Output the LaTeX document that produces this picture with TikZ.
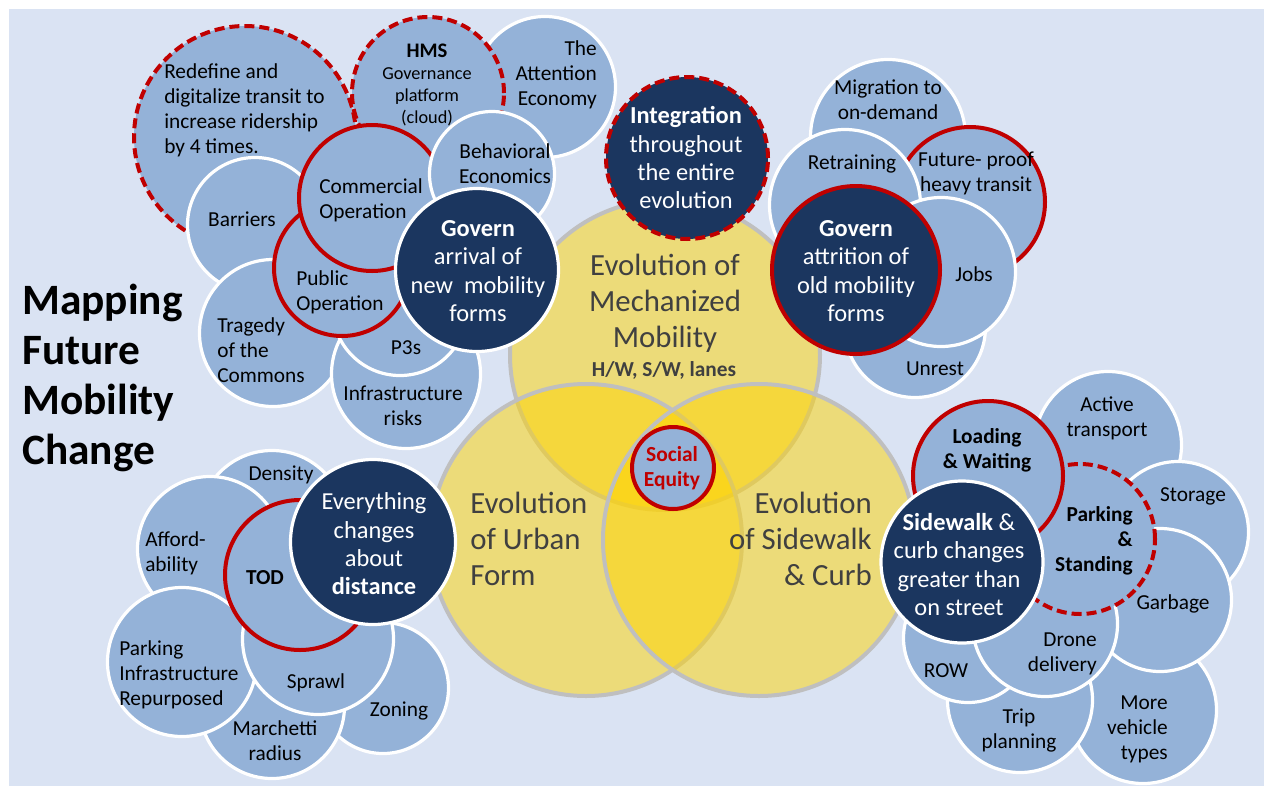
\documentclass[tikz,border=0pt]{standalone}
\usepackage{fontspec}
\setmainfont{Carlito}
\definecolor{bgblue}{HTML}{DAE3F3}
\definecolor{bubfill}{HTML}{94B2D8}
\definecolor{navyfill}{HTML}{1B365F}
\definecolor{ringred}{HTML}{C00000}
\definecolor{vennfill}{HTML}{FFD400}
\definecolor{venngray}{HTML}{BFBFBF}
\definecolor{venntext}{HTML}{404040}
\begin{document}
\begin{tikzpicture}[x=0.75pt,y=-0.75pt,
  rad/.style={minimum size=#1*1.5pt},
  lite/.style={circle, fill=bubfill, draw=white, line width=2.4pt, inner sep=0pt},
  navy/.style={circle, fill=navyfill, draw=white, line width=2.4pt, inner sep=0pt},
  redring/.style={draw=ringred, line width=3pt},
  reddash/.style={draw=ringred, line width=3pt, dash pattern=on 7.5pt off 3.75pt},
  venn/.style={circle, inner sep=0pt, fill=vennfill, fill opacity=0.5, draw=venngray, line width=3pt},
  txt/.style={font=\fontsize{16}{18.75}\selectfont, text=black, inner sep=0pt, align=center},
  boldtxt/.style={txt, font=\fontsize{16}{18.75}\selectfont\bfseries},
  navytxt/.style={font=\fontsize{18.3}{21.25}\selectfont, text=white, inner sep=0pt, align=center},
  venntxt/.style={font=\fontsize{23.1}{27}\selectfont, text=venntext, inner sep=0pt},
  lft/.style={anchor=west, align=left},
  rgt/.style={anchor=east, align=right}]

% canvas
\useasboundingbox (0,0) rectangle (1264,786);
\fill[white] (0,0) rectangle (1264,786);
\fill[bgblue] (9,9) rectangle (1264,786);

% three overlapping fields of change
\node[venn, rad=155] (mech) at (665,355) {};
\node[venn, rad=156] (urban) at (586,540) {};
\node[venn, rad=156] (curb) at (759,540) {};
\node[venntxt, align=center] (mechtxt) at (665,303) {Evolution of\\Mechanized\\Mobility};
\node[txt, text=venntext, font=\fontsize{16}{18}\selectfont\bfseries] (hwl) at (664,370) {H/W, S/W, lanes};
\node[venntxt, lft] (urbantxt) at (470,539) {Evolution\\of Urban\\Form};
\node[venntxt, rgt] (curbtxt) at (872,539) {Evolution\\of Sidewalk\\\& Curb};

\node[lite, redring, rad=41] (social) at (673,468) {};
\node[txt, text=ringred, font=\fontsize{16.1}{18.75}\selectfont\bfseries] (socialtxt) at (672,468.5) {Social\\Equity};

% title
\node[inner sep=0pt, lft, font=\fontsize{32.5}{37.5}\selectfont\bfseries] (title) at (22,378) {Mapping\\Future\\Mobility\\Change};

% governance of new mobility forms
\node[lite, reddash, rad=111] (redefine) at (245,137) {};
\node[txt, lft] (redefinetxt) at (164,110) {Redefine and\\digitalize transit to\\increase ridership\\by 4 times.};
\node[lite, rad=70.5] (attention) at (545,87) {};
\node[txt, rgt] (attentiontxt) at (597,75) {The\\Attention\\Economy};
\node[lite, reddash, rad=76] (hms) at (428,93) {};
\node[txt, font=\fontsize{13.7}{16.7}\selectfont] (hmstxt) at (427,85) {{\fontsize{15.5}{16.7}\selectfont\bfseries HMS}\\Governance\\platform\\(cloud)};
\node[lite, rad=67.5] (barriers) at (255,225) {};
\node[txt] (barrierstxt) at (242,219) {Barriers};
\node[lite, rad=73.5] (tragedy) at (273,333) {};
\node[txt, lft] (tragedytxt) at (217,350) {Tragedy\\of the\\Commons};
\node[lite, rad=74.5] (infra) at (406,374) {};
\node[txt] (infratxt) at (403,406) {Infrastructure\\risks};
\node[lite, rad=67.5] (p3s) at (400,308) {};
\node[txt] (p3stxt) at (406,348) {P3s};
\node[lite, redring, rad=68] (public) at (342,268) {};
\node[txt, lft] (publictxt) at (296,292) {Public\\Operation};
\node[lite, redring, rad=73] (commercial) at (372,198) {};
\node[txt, lft] (commercialtxt) at (319,200.5) {Commercial\\Operation};
\node[lite, rad=62.5] (behavioral) at (492,174) {};
\node[txt] (behavioraltxt) at (505,163.5) {Behavioral\\Economics};
\node[navy, rad=81.5] (governnew) at (477,270) {};
\node[navytxt] (governnewtxt) at (478,271) {\textbf{Govern}\\arrival of\\new\ \ mobility\\forms};

% integration
\node[navy, reddash, rad=81] (integration) at (687,158) {};
\node[navytxt] (integrationtxt) at (686,158) {\textbf{Integration}\\throughout\\the entire\\evolution};

% governance of old mobility forms
\node[lite, rad=77.5] (migration) at (888,137) {};
\node[txt] (migrationtxt) at (888,99.5) {Migration to\\on-demand};
\node[lite, redring, rad=75] (future) at (970,202) {};
\node[txt] (futuretxt) at (976,173.5) {Future- proof\\heavy transit};
\node[lite, rad=75.5] (retraining) at (845,205) {};
\node[txt] (retrainingtxt) at (852,164) {Retraining};
\node[lite, rad=70.5] (unrest) at (915,327) {};
\node[txt] (unresttxt) at (935,369) {Unrest};
\node[lite, rad=74.5] (jobs) at (941,272) {};
\node[txt] (jobstxt) at (974,274) {Jobs};
\node[navy, redring, rad=84] (governold) at (856,270) {};
\node[navytxt] (governoldtxt) at (856,271) {\textbf{Govern}\\attrition of\\old mobility\\forms};

% urban form
\node[lite, rad=73.5] (density) at (272,524) {};
\node[txt] (densitytxt) at (281,475) {Density};
\node[lite, rad=65.5] (zoning) at (383,688) {};
\node[txt] (zoningtxt) at (399,711) {Zoning};
\node[lite, rad=72.5] (marchetti) at (272,706) {};
\node[txt] (marchettitxt) at (275,741) {Marchetti\\radius};
\node[lite, rad=72.5] (afford) at (210,549) {};
\node[txt, lft] (affordtxt) at (145,553) {Afford-\\ability};
\node[lite, rad=74.5] (parkinf) at (182,662) {};
\node[txt, lft] (parkinftxt) at (119,675) {Parking\\Infrastructure\\Repurposed};
\node[lite, rad=75.5] (sprawl) at (318,639) {};
\node[txt] (sprawltxt) at (316,683) {Sprawl};
\node[lite, redring, rad=75] (tod) at (300,575) {};
\node[boldtxt] (todtxt) at (265,578) {TOD};
\node[navy, rad=82.5] (distance) at (373,542) {};
\node[navytxt] (distancetxt) at (374,544) {Everything\\changes\\about\\\textbf{distance}};

% sidewalk and curb
\node[lite, rad=73.5] (active) at (1108,445) {};
\node[txt] (activetxt) at (1107,418.5) {Active\\transport};
\node[lite, rad=70.5] (storage) at (1178,532) {};
\node[txt] (storagetxt) at (1193,496) {Storage};
\node[lite, rad=73.5] (more) at (1143,710) {};
\node[txt, rgt] (moretxt) at (1168,729) {More\\vehicle\\types};
\node[lite, rad=71.5] (garbage) at (1160,600) {};
\node[txt] (garbagetxt) at (1173,604) {Garbage};
\node[lite, rad=72.5] (trip) at (1020,700) {};
\node[txt] (triptxt) at (1019,730.5) {Trip\\planning};
\node[lite, rad=64.5] (row) at (968,638) {};
\node[txt] (rowtxt) at (946,671) {ROW};
\node[lite, rad=72.5] (drone) at (1045,624) {};
\node[txt, rgt] (dronetxt) at (1097,654) {Drone\\delivery};
\node[lite, reddash, rad=75] (parkstand) at (1080,539) {};
\node[boldtxt, rgt] (parkstandtxt) at (1133,541) {Parking\\\&\\Standing};
\node[lite, redring, rad=75] (loading) at (988,476) {};
\node[boldtxt] (loadingtxt) at (987,450.5) {Loading\\\& Waiting};
\node[navy, rad=81] (sidewalk) at (962,562) {};
\node[navytxt] (sidewalktxt) at (959,564.5) {\textbf{Sidewalk} \&\\curb changes\\greater than\\on street};

\end{tikzpicture}
\end{document}
